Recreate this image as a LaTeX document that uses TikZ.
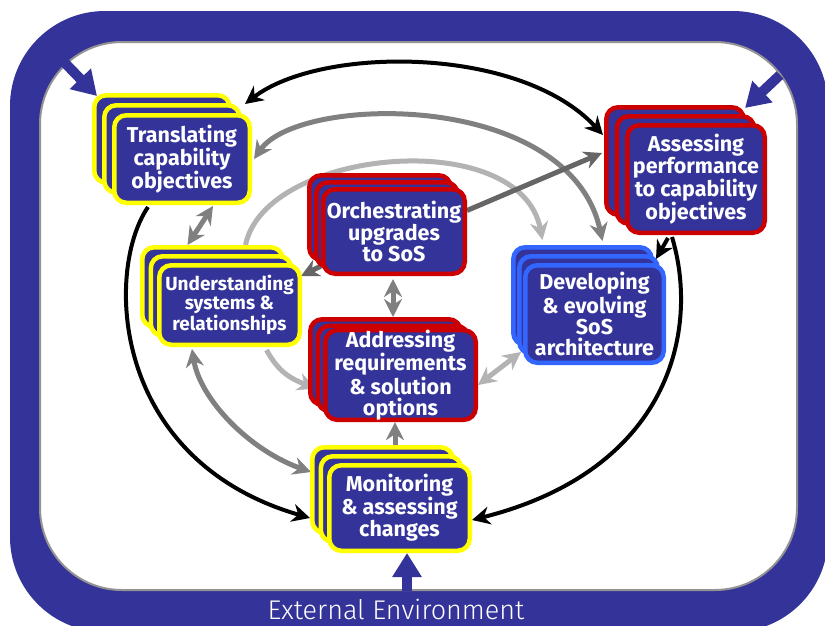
\documentclass[tikz,border=0pt]{standalone}
\usepackage{fontspec}
\setmainfont{Fira Sans}
\newfontfamily\envfont{Fira Sans Light}
\usetikzlibrary{arrows.meta}
\definecolor{navy}{HTML}{333399}
\definecolor{bred}{HTML}{CC0000}
\definecolor{byel}{HTML}{FFFF00}
\definecolor{bblue}{HTML}{3366FF}
\definecolor{gmid}{HTML}{808080}
\definecolor{gdark}{HTML}{666666}
\definecolor{glight}{HTML}{B3B3B3}
\pgfdeclarelayer{frame}
\pgfdeclarelayer{conn}
\pgfsetlayers{frame,conn,main}
\tikzset{
  stackbox/.style={fill=navy, line width=4.5pt, rounded corners=12pt, inner sep=0pt,
    text=white, align=center, font=\bfseries\fontsize{21.5}{21}\selectfont},
  ylw/.style={draw=byel}, rd/.style={draw=bred}, bl/.style={draw=bblue},
  smallfont/.style={font=\bfseries\fontsize{19}{17.5}\selectfont},
  >={Stealth[length=18pt,width=18pt]},
  blk/.style={draw=black, line width=4pt},
  gm/.style={draw=gmid, line width=5pt},
  gd/.style={draw=gdark, line width=5pt},
  gl/.style={draw=glight, line width=5pt},
  bluearr/.style={draw=navy, line width=10pt, -{Triangle[length=24pt,width=28pt]}},
}
% name, style, x1, y1, x2, y2, dx, dy, text
\newcommand\boxstack[9]{%
  \node[stackbox,#2,minimum width={#5-#3-4.5},minimum height={#6-#4-4.5}] (#1b) at ({(#3+#5)/2-2*#7},{(#4+#6)/2-2*#8}) {};
  \node[stackbox,#2,minimum width={#5-#3-4.5},minimum height={#6-#4-4.5}] (#1m) at ({(#3+#5)/2-#7},{(#4+#6)/2-#8}) {};
  \node[stackbox,#2,minimum width={#5-#3-4.5},minimum height={#6-#4-4.5}] (#1) at ({(#3+#5)/2},{(#4+#6)/2}) {#9};
}
\begin{document}
\begin{tikzpicture}[x=1pt,y=-1pt]
\useasboundingbox (0,0) rectangle (825,625);
\begin{pgfonlayer}{frame}
  \clip (0,0) rectangle (825,625);
  \fill[navy, rounded corners=95pt] (10,11) rectangle (828,632);
  \filldraw[fill=white, draw=gray!85, line width=2pt, rounded corners=82pt] (40,42) rectangle (797,590);
\end{pgfonlayer}
\node[text=white, font=\envfont\fontsize{27}{30}\selectfont] (env) at (396,609) {External Environment};

\boxstack{T}{ylw}{112}{113}{252}{205}{10}{10}{Translating\\capability\\objectives}
\boxstack{U}{ylw,smallfont}{157}{263}{302}{347}{8.5}{9}{Understanding\\systems \&\\relationships}
\boxstack{O}{rd}{321}{187}{467}{276}{7}{7}{Orchestrating\\upgrades\\to SoS}
\boxstack{A}{rd}{625}{123}{767}{235}{10.5}{9}{Assessing\\performance\\to capability\\objectives}
\boxstack{D}{bl}{523}{263}{666}{365}{6}{9}{Developing\\\& evolving\\SoS\\architecture}
\boxstack{R}{rd}{323}{330}{478}{420}{7.5}{6.5}{Addressing\\requirements\\\& solution\\options}
\boxstack{M}{ylw}{327}{463}{472}{553}{8.5}{9}{Monitoring\\\& assessing\\changes}

\coordinate (e1) at (65,63);
\coordinate (e2) at (780,75);
\coordinate (e3) at (407,591);

\begin{pgfonlayer}{conn}
  % black loop
  \draw[blk,<->] ([shift={(3,1)}]Tm.north east) .. controls +(75,-58) and +(-83,-90) .. ([shift={(-1,30)}]Ab.north west);
  \draw[blk,->] ([shift={(-34,2)}]T.south) .. controls +(-43,63) and +(-200,-58) .. ([shift={(0,28)}]Mb.west);
  \draw[blk,->] ([shift={(-24,2)}]A.south) .. controls +(28,93) and +(198,-50) .. ([shift={(0,12)}]M.east);
  \draw[blk,->] ([shift={(-28,3)}]A.south) -- ([shift={(-10,-4)}]D.north east);
  % grey arcs
  \draw[gm,<->] ([shift={(2,0)}]T.east) .. controls +(45,-65) and +(-33,-151) .. ([shift={(20,-4)}]Db.north);
  \draw[gl,->] ([shift={(33,0)}]Ub.north) .. controls +(20,-97) and +(-22,-115) .. ([shift={(-40,-5)}]Db.north);
  \draw[gl,->] ([shift={(37,3)}]U.south) .. controls +(12,22) and +(-25,-10) .. ([shift={(0,20)}]Rm.west);
  \draw[gl,<->] ([shift={(0,10)}]R.east) -- ([shift={(4,-4)}]Dm.south west);
  \draw[gm,<->] ([shift={(31,1)}]T.south) -- ([shift={(-25,0)}]Ub.north);
  \draw[gd,->] ([shift={(0,-10)}]O.south west) -- ([shift={(-1,13)}]U.north east);
  \draw[gd,->] ([shift={(0,-21)}]O.east) -- ([shift={(-2,48)}]Ab.north west);
  \draw[gm,<->] ([shift={(-1,3)}]O.south) -- ([shift={(7.5,0)}]Rb.north);
  \draw[gm,->] ([shift={(12.5,0)}]Mb.north) -- ([shift={(-5.5,0)}]R.south);
  \draw[gm,<->] ([shift={(-37.5,2)}]U.south) .. controls +(8,50) and +(-62,-22) .. ([shift={(1,-18)}]Mb.west);
  % environment arrows
  \draw[bluearr] (e1) -- ([shift={(5,3)}]Tb.north west);
  \draw[bluearr] (e2) -- ([shift={(-1,3)}]Ab.north east);
  \draw[bluearr] (e3) -- ([shift={(7.5,0)}]M.south);
\end{pgfonlayer}
\end{tikzpicture}
\end{document}
